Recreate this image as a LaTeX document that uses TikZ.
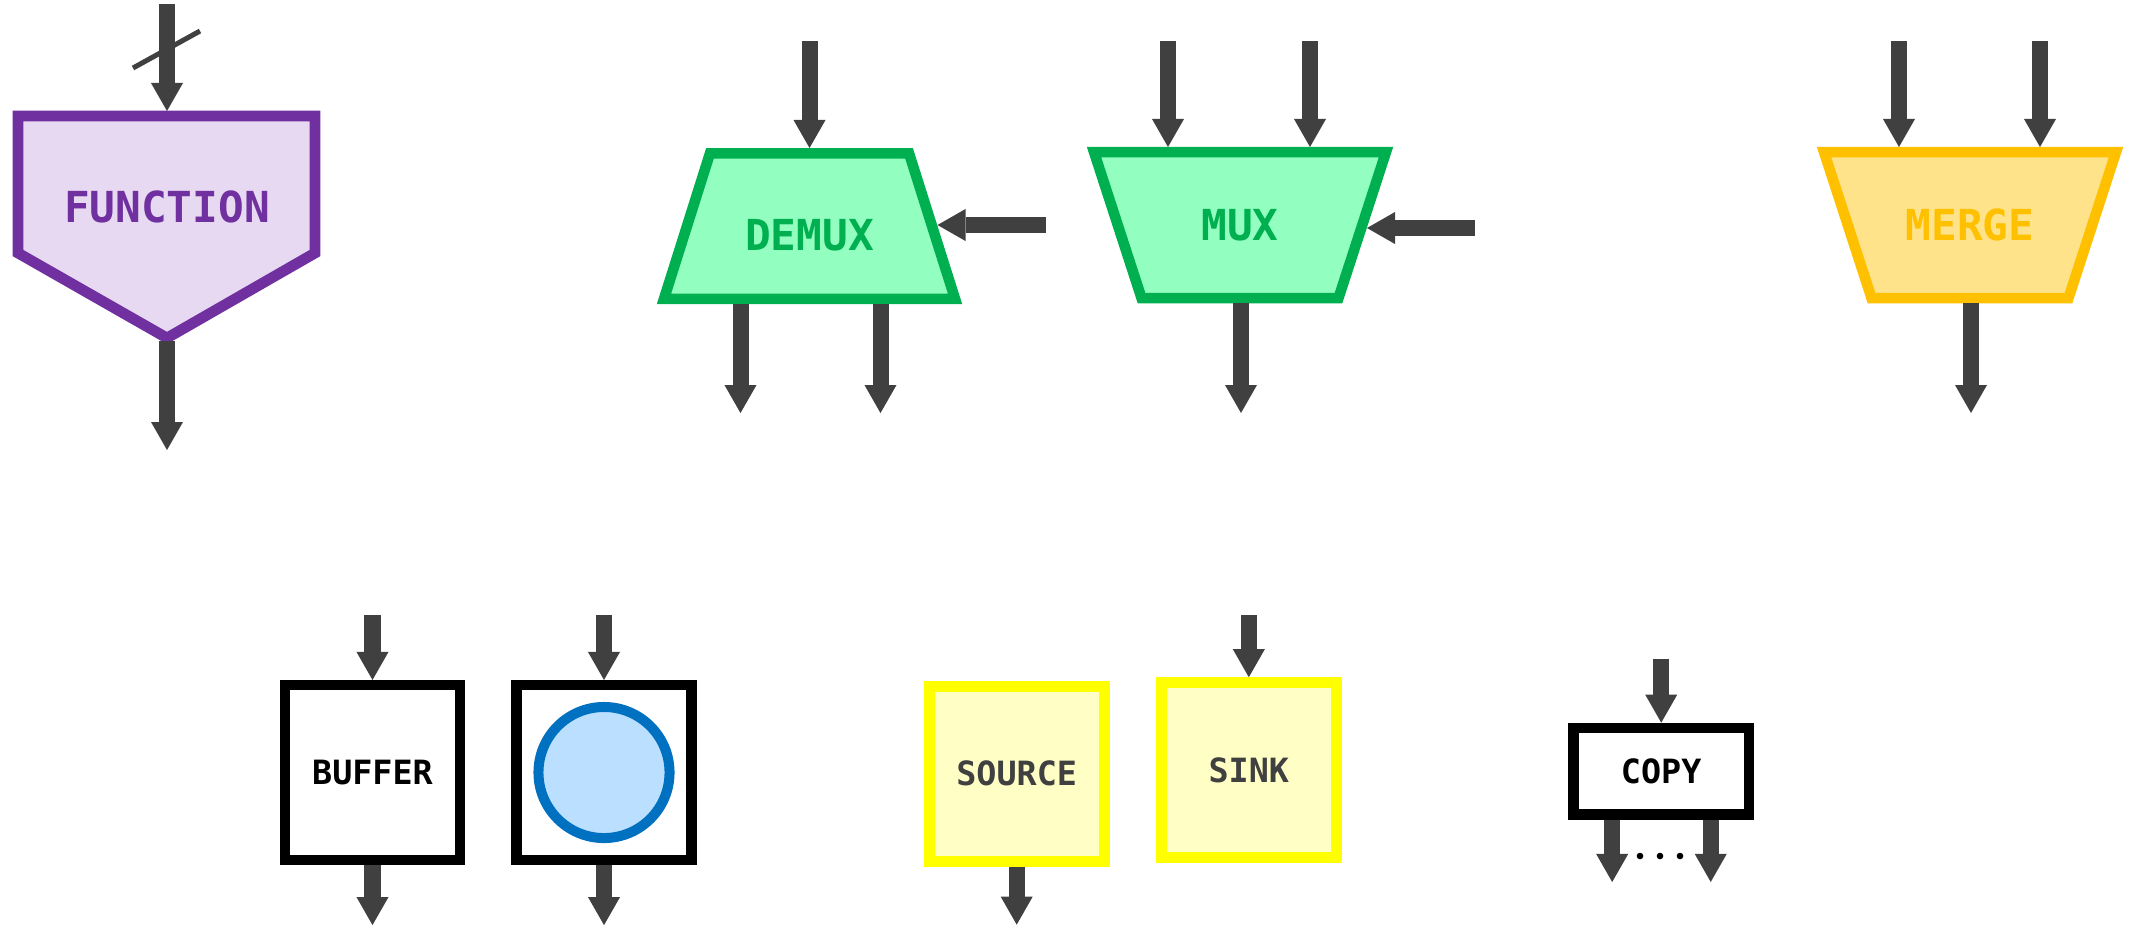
\documentclass[tikz,border=0pt]{standalone}
\usepackage{fontspec}
\setmonofont{DejaVu Sans Mono}
\usetikzlibrary{arrows.meta,positioning}

\definecolor{arrowgray}{HTML}{404040}
\definecolor{fnpurple}{HTML}{7030A0}
\definecolor{fnfill}{HTML}{E6D9F1}
\definecolor{muxgreen}{HTML}{00B050}
\definecolor{muxfill}{HTML}{92FFC0}
\definecolor{mergegold}{HTML}{FFC000}
\definecolor{mergefill}{HTML}{FFE38B}
\definecolor{srcyellow}{HTML}{FFFF00}
\definecolor{srcfill}{HTML}{FFFFC5}
\definecolor{tokenblue}{HTML}{0070C0}
\definecolor{tokenfill}{HTML}{BBE0FF}

\begin{document}
\begin{tikzpicture}[x=0.01cm,y=-0.01cm,
  flow/.style={arrowgray,line width=0.16cm,-{Triangle[width=0.32cm,length=0.28cm,line width=0pt]}},
  bigtext/.style={font=\ttfamily\bfseries\fontsize{12.15pt}{14pt}\selectfont},
  smalltext/.style={font=\ttfamily\bfseries\fontsize{9.5pt}{11pt}\selectfont},
  fnbox/.style={draw=fnpurple,fill=fnfill,line width=0.107cm},
  muxbox/.style={draw=muxgreen,fill=muxfill,line width=0.105cm},
  mergebox/.style={draw=mergegold,fill=mergefill,line width=0.105cm},
  plainbox/.style={draw=black,fill=white,line width=0.105cm,minimum size=1.745cm,smalltext,text=black},
  srcbox/.style={draw=srcyellow,fill=srcfill,line width=0.11cm,minimum size=1.745cm,smalltext,text=arrowgray},
  token/.style={circle,draw=tokenblue,fill=tokenfill,line width=0.1cm,minimum size=1.31cm,inner sep=0pt}]

  \useasboundingbox (0,0) rectangle (2136,926);

  % function
  \draw[fnbox] (18,116) -- (315,116) -- (315,253) -- (167,338) -- (18,253) -- cycle;
  \node[bigtext,text=fnpurple] (fn) at (167,207) {FUNCTION};
  \coordinate (fn-src) at (167,4);
  \coordinate (fn-in) at (167,111);
  \coordinate (fn-out) at (167,341);
  \coordinate (fn-dst) at (167,450);
  \draw[flow] (fn-src) -- (fn-in);
  \draw[flow] (fn-out) -- (fn-dst);
  \draw[arrowgray,line width=0.05cm] (133,68) -- (200,31);

  % demux
  \begin{scope}[shift={(809.5,226)}]
    \draw[muxbox] (-99.5,-72.75) -- (99.5,-72.75) -- (145.5,72.75) -- (-145.5,72.75) -- cycle;
    \node[bigtext,text=muxgreen] (dmx) at (0,9.5) {DEMUX};
    \coordinate (dmx-src) at (0,-185);
    \coordinate (dmx-in) at (0,-78);
    \draw[flow] (dmx-src) -- (dmx-in);
    \coordinate (dmx-sel) at (236.5,-1);
    \coordinate (dmx-side) at (128,-1);
    \draw[flow] (dmx-sel) -- (dmx-side);
    \foreach \i/\x in {1/-69,2/71} {
      \coordinate (dmx-out\i) at (\x,78);
      \coordinate (dmx-dst\i) at (\x,187);
      \draw[flow] (dmx-out\i) -- (dmx-dst\i);
    }
  \end{scope}

  % mux
  \begin{scope}[shift={(1240,225)}]
    \draw[muxbox] (-146,-73) -- (146,-73) -- (98.5,73) -- (-98.5,73) -- cycle;
    \node[bigtext,text=muxgreen] (mux) at (0,0) {MUX};
    \foreach \i/\x in {1/-72,2/70} {
      \coordinate (mux-src\i) at (\x,-184);
      \coordinate (mux-in\i) at (\x,-78);
      \draw[flow] (mux-src\i) -- (mux-in\i);
    }
    \coordinate (mux-sel) at (235,3);
    \coordinate (mux-side) at (127,3);
    \draw[flow] (mux-sel) -- (mux-side);
    \coordinate (mux-out) at (1,78);
    \coordinate (mux-dst) at (1,188);
    \draw[flow] (mux-out) -- (mux-dst);
  \end{scope}

  % merge
  \begin{scope}[shift={(1970,225)}]
    \draw[mergebox] (-146,-73) -- (146,-73) -- (98.5,73) -- (-98.5,73) -- cycle;
    \node[bigtext,text=mergegold] (mrg) at (0,0) {MERGE};
    \foreach \i/\x in {1/-71,2/70} {
      \coordinate (mrg-src\i) at (\x,-184);
      \coordinate (mrg-in\i) at (\x,-78);
      \draw[flow] (mrg-src\i) -- (mrg-in\i);
    }
    \coordinate (mrg-out) at (1,78);
    \coordinate (mrg-dst) at (1,188);
    \draw[flow] (mrg-out) -- (mrg-dst);
  \end{scope}

  % buffers
  \node[plainbox] (buf) at (372.5,772.5) {BUFFER};
  \node[plainbox] (tok) at (604,772.5) {};
  \node[token] (tokc) at (tok.center) {};
  \foreach \n in {buf,tok} {
    \coordinate[above=0.65cm of \n] (\n-src);
    \coordinate[below=0.6cm of \n] (\n-dst);
    \draw[flow] (\n-src) -- (\n);
    \draw[flow] (\n) -- (\n-dst);
  }

  % source and sink
  \node[srcbox] (src) at (1016.7,773.8) {SOURCE};
  \node[srcbox] (snk) at (1248.8,770) {SINK};
  \coordinate[below=0.58cm of src] (src-dst);
  \coordinate[above=0.62cm of snk] (snk-src);
  \draw[flow] (src) -- (src-dst);
  \draw[flow] (snk-src) -- (snk);

  % copy
  \node[plainbox,minimum width=1.75cm,minimum height=0.867cm] (cp) at (1661.2,771.3) {COPY};
  \coordinate[above=0.64cm of cp] (cp-src);
  \draw[flow] (cp-src) -- (cp);
  \foreach \i/\dx in {1/-0.49cm,2/0.495cm} {
    \coordinate (cp-out\i) at ([xshift=\dx]cp.south);
    \coordinate[below=0.62cm of cp-out\i] (cp-dst\i);
    \draw[flow] (cp-out\i) -- (cp-dst\i);
  }
  \foreach \x in {1640,1660,1680} \fill (\x,856) circle (0.033cm);
\end{tikzpicture}
\end{document}
